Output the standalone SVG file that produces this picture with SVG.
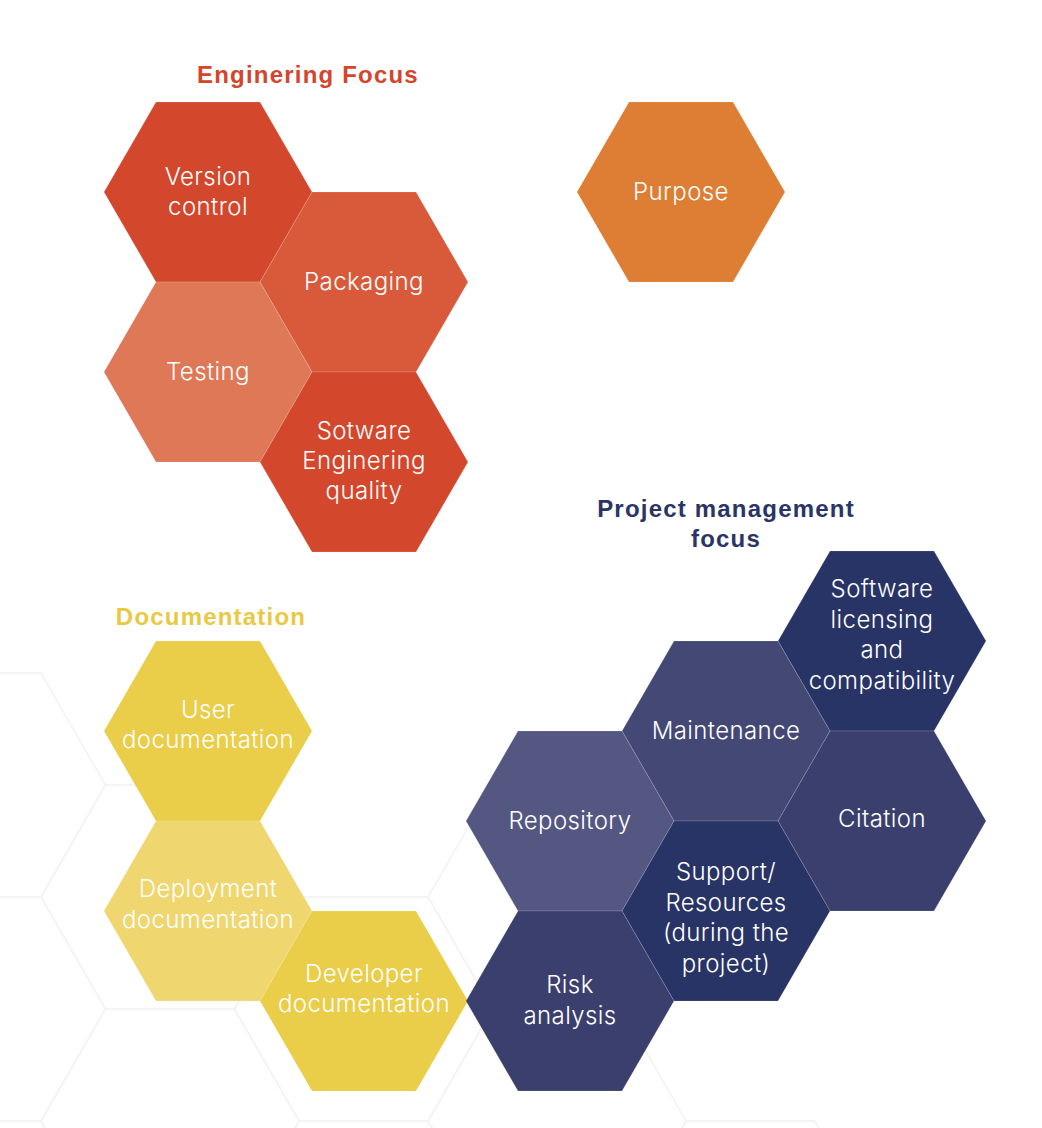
<svg xmlns="http://www.w3.org/2000/svg" xmlns:xlink="http://www.w3.org/1999/xlink" width="1042" height="1128" viewBox="0 0 1042 1128">
  <defs>
    <!-- flat-topped hexagon, circumradius 104 -->
    <polygon id="hex" points="-104,0 -52,-90 52,-90 104,0 52,90 -52,90"/>
    <!-- larger cell of the faint honeycomb backdrop -->
    <polygon id="cell" points="-129,0 -64.5,-112 64.5,-112 129,0 64.5,112 -64.5,112"/>
    <style>
      .cell { fill: none; stroke: #f4f4f4; stroke-width: 1.8; }
      .tile { stroke: #ffffff; stroke-opacity: 0.18; stroke-width: 0.8; }
      .label { font-family: "Inter", "Liberation Sans", "Noto Sans", sans-serif; font-weight: 300; font-size: 24px; letter-spacing: 0.4px; fill: #ffffff; text-anchor: middle; }
      .title { font-family: "Liberation Sans", Arial, sans-serif; font-weight: bold; font-size: 24px; letter-spacing: 1.2px; text-anchor: middle; }
      .eng { fill: #d4452b; }
      .doc { fill: #e9c944; }
      .pm { fill: #2a3466; }
    </style>
  </defs>

  <rect width="1042" height="1128" fill="#ffffff"/>

  <!-- faint honeycomb backdrop -->
  <g id="honeycomb">
    <use href="#cell" class="cell" x="-23.5" y="785"/>
    <use href="#cell" class="cell" x="-23.5" y="1009"/>
    <use href="#cell" class="cell" x="170" y="897"/>
    <use href="#cell" class="cell" x="170" y="1121"/>
    <use href="#cell" class="cell" x="363.5" y="1009"/>
    <use href="#cell" class="cell" x="363.5" y="1233"/>
    <use href="#cell" class="cell" x="557" y="897"/>
    <use href="#cell" class="cell" x="557" y="1121"/>
    <use href="#cell" class="cell" x="750.5" y="1233"/>
  </g>

  <!-- section titles -->
  <text id="title-engineering" class="title eng" x="308" y="83">Enginering Focus</text>
  <text id="title-documentation" class="title doc" x="211" y="625">Documentation</text>
  <text id="title-project" class="title pm" x="726" y="517">Project management<tspan x="726" dy="30">focus</tspan></text>

  <!-- engineering cluster -->
  <g id="version-control">
    <use href="#hex" class="tile" x="208" y="192" fill="#d3472c"/>
    <text class="label" x="208" y="185">Version<tspan x="208" dy="30">control</tspan></text>
  </g>
  <g id="packaging">
    <use href="#hex" class="tile" x="364" y="282" fill="#d85a3a"/>
    <text class="label" x="364" y="290">Packaging</text>
  </g>
  <g id="testing">
    <use href="#hex" class="tile" x="208" y="372" fill="#de7856"/>
    <text class="label" x="208" y="380">Testing</text>
  </g>
  <g id="se-quality">
    <use href="#hex" class="tile" x="364" y="462" fill="#d3472c"/>
    <text class="label" x="364" y="439">Sotware<tspan x="364" dy="30">Enginering</tspan><tspan x="364" dy="30">quality</tspan></text>
  </g>

  <g id="purpose">
    <use href="#hex" class="tile" x="681" y="192" fill="#de7e35"/>
    <text class="label" x="681" y="200">Purpose</text>
  </g>

  <!-- documentation cluster -->
  <g id="user-documentation">
    <use href="#hex" class="tile" x="208" y="731" fill="#eacd48"/>
    <text class="label" x="208" y="718">User<tspan x="208" dy="30">documentation</tspan></text>
  </g>
  <g id="deployment-documentation">
    <use href="#hex" class="tile" x="208" y="911" fill="#efd66e"/>
    <text class="label" x="208" y="897">Deployment<tspan x="208" dy="31">documentation</tspan></text>
  </g>
  <g id="developer-documentation">
    <use href="#hex" class="tile" x="364" y="1001" fill="#eacd48"/>
    <text class="label" x="364" y="982">Developer<tspan x="364" dy="30">documentation</tspan></text>
  </g>

  <!-- project management cluster -->
  <g id="software-licensing">
    <use href="#hex" class="tile" x="882" y="641" fill="#283366"/>
    <text class="label" x="882" y="597">Software<tspan x="882" dy="30.5">licensing</tspan><tspan x="882" dy="30.5">and</tspan><tspan x="882" dy="30.5">compatibility</tspan></text>
  </g>
  <g id="maintenance">
    <use href="#hex" class="tile" x="726" y="731" fill="#444874"/>
    <text class="label" x="726" y="739">Maintenance</text>
  </g>
  <g id="repository">
    <use href="#hex" class="tile" x="570" y="821" fill="#545782"/>
    <text class="label" x="570" y="829">Repository</text>
  </g>
  <g id="citation">
    <use href="#hex" class="tile" x="882" y="821" fill="#3b3f6e"/>
    <text class="label" x="882" y="827">Citation</text>
  </g>
  <g id="support-resources">
    <use href="#hex" class="tile" x="726" y="911" fill="#283366"/>
    <text class="label" x="726" y="880">Support/<tspan x="726" dy="30.5">Resources</tspan><tspan x="726" dy="30.5">(during the</tspan><tspan x="726" dy="30.5">project)</tspan></text>
  </g>
  <g id="risk-analysis">
    <use href="#hex" class="tile" x="570" y="1001" fill="#3b3f6e"/>
    <text class="label" x="570" y="993">Risk<tspan x="570" dy="31">analysis</tspan></text>
  </g>
</svg>
